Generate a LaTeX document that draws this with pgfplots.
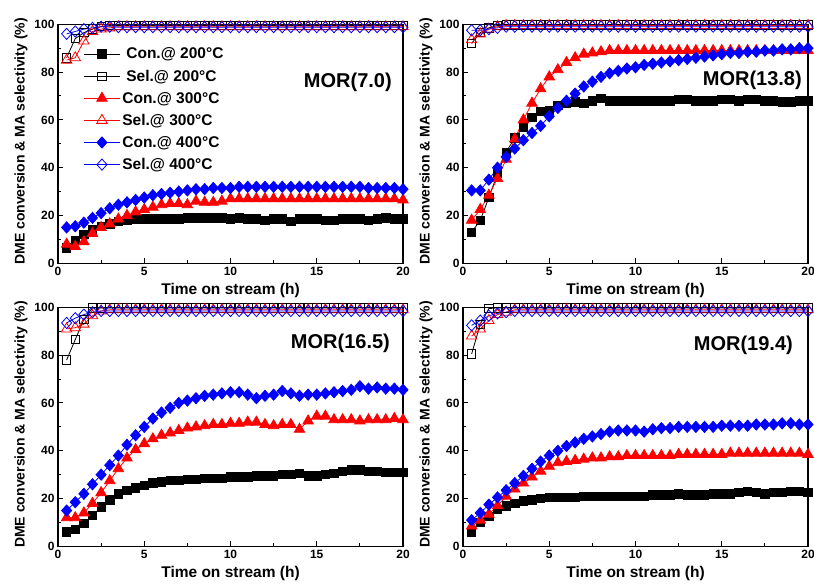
\documentclass[border=0pt]{standalone}
\usepackage{fontspec}
\setmainfont{Liberation Sans}
\usepackage{pgfplots}
\usepackage{pgfplotstable}
\pgfplotsset{compat=1.18}

% columns: t, Con200, Sel200, Con300, Sel300, Con400, Sel400
\pgfplotstableread{
t c2 s2 c3 s3 c4 s4
0.5 6.5 86 8 85 15 96
1.0 9.5 94 7 86 15.5 97
1.5 12 96.5 9 93 17 98
2.0 14 98 12.5 97 19 98.5
2.5 15.5 99 15 98 21 99
3.0 16.5 99.5 16.5 98.5 23 99
3.5 17.5 99.5 18.5 99 24.5 98.8
4.0 18 99.5 20 99 25.5 98.8
4.5 18.5 99.5 21.5 99 26.5 98.8
5.0 18.5 99.5 22.5 99 27.5 98.8
5.5 18.5 99.5 23.5 99 28.5 98.8
6.0 18.5 99.5 24.5 99 29 98.8
6.5 18.5 99.5 25 99 29.5 98.8
7.0 18.5 99.5 25 99 30 98.8
7.5 19 99.5 24.5 99 30.5 98.8
8.0 19 99.5 26 99 31 98.8
8.5 19 99.5 25.5 99 31 98.8
9.0 19 99.5 25.5 99 31.5 98.8
9.5 19 99.5 26 99 31.5 98.8
10.0 18.5 99.5 27 99 31.5 98.8
10.5 19 99.5 27 99 32 98.8
11.0 18.5 99.5 27 99 32 98.8
11.5 18.5 99.5 27 99 32 98.8
12.0 18 99.5 27 99 32 98.8
12.5 18.5 99.5 27 99 32 98.8
13.0 18.5 99.5 27 99 32 98.8
13.5 17.5 99.5 27 99 32 98.8
14.0 18.5 99.5 27 99 32 98.8
14.5 18.5 99.5 27 99 32 98.8
15.0 18.5 99.5 27 99 32 98.8
15.5 18 99.5 27 99 32 98.8
16.0 18 99.5 27 99 32 98.8
16.5 18.5 99.5 27 99 32 98.8
17.0 18.5 99.5 27 99 32 98.8
17.5 18.5 99.5 27 99 32 98.8
18.0 18 99.5 27 99 31.5 98.8
18.5 18.5 99.5 27 99 31.5 98.8
19.0 19 99.5 27 99 31.5 98.8
19.5 18.5 99.5 27 99 31.5 98.8
20.0 18.5 99.5 26.5 99 31 98.8
}\tabA

\pgfplotstableread{
t c2 s2 c3 s3 c4 s4
0.5 13 92 18 93.5 30.5 97.5
1.0 18 96.5 22.5 96 30.5 97.5
1.5 27.5 98.5 28.5 98 35 98
2.0 37.5 99.5 35.5 99 40 98.5
2.5 46.5 99.7 43.5 99.5 44.5 99
3.0 52.5 99.7 52 99.5 48 99
3.5 57 99.7 60 99.5 51.5 99
4.0 61 99.7 67 99.5 54.5 99
4.5 63.5 99.7 73 99.5 57.5 99
5.0 64 99.7 78 99.5 61.5 99
5.5 66 99.7 81 99.5 65 99
6.0 67 99.7 84 99.5 68 99
6.5 67.5 99.7 86 99.5 71 99
7.0 67 99.7 87.5 99.5 74 99
7.5 68 99.7 88 99.5 76 99
8.0 69 99.7 88.5 99.5 78 99
8.5 68 99.7 89 99.5 79.5 99
9.0 68 99.7 89 99.5 80.5 99
9.5 68 99.7 89 99.5 81.5 99
10.0 68 99.7 89 99.5 82 99
10.5 68 99.7 89 99.5 83 99
11.0 68 99.7 89 99.5 83.5 99
11.5 68 99.7 89 99.5 84 99
12.0 68 99.7 89 99.5 84.5 99
12.5 68.5 99.7 89 99.5 85 99
13.0 68.5 99.7 89 99.5 85.5 99
13.5 68 99.7 89 99.5 86 99
14.0 68 99.7 89 99.5 86.5 99
14.5 68 99.7 89 99.5 87 99
15.0 68.5 99.7 89 99.5 87.5 99
15.5 68.5 99.7 89 99.5 88 99
16.0 68 99.7 89 99.5 88 99
16.5 68.5 99.7 89 99.5 88.5 99
17.0 68.5 99.7 89 99.5 88.5 99
17.5 68 99.7 89 99.5 89 99
18.0 68 99.7 89 99.5 89 99
18.5 67.5 99.7 89 99.5 89.5 99
19.0 67.5 99.7 89 99.5 89.5 99
19.5 68 99.7 89 99.5 90 99
20.0 68 99.7 89 99.5 90 99
}\tabB

\pgfplotstableread{
t c2 s2 c3 s3 c4 s4
0.5 6 78 12 91 15 93.5
1.0 7 86.5 12 91.5 18.5 95.5
1.5 9.5 95 14 93 22 97
2.0 13 99.8 18 96.5 26 98
2.5 16.5 99.8 22.5 98.5 30 98.5
3.0 19.5 99.8 27.5 99 34 98.5
3.5 22 99.8 32.5 99 38 98.5
4.0 23.5 99.8 37 99 42.5 98.5
4.5 24.5 99.8 40.5 99 46.5 98.5
5.0 25.5 99.8 43 99 50 98.5
5.5 26.5 99.8 45 99 53.5 98.5
6.0 27 99.8 46.5 99 56 98.5
6.5 27.5 99.8 47.5 99 58 98.5
7.0 27.5 99.8 48.5 99 60 98.5
7.5 28 99.8 49.5 99 61 98.5
8.0 28 99.8 50 99 62 98.5
8.5 28.5 99.8 50.5 99 63 98.5
9.0 28.5 99.8 51 99 63.5 98.5
9.5 28.5 99.8 51 99 64 98.5
10.0 29 99.8 51.5 99 64.5 98.5
10.5 29 99.8 51.5 99 64.5 98.5
11.0 29 99.8 52 99 63.5 98.5
11.5 29.5 99.8 52 99 62 98.5
12.0 29.5 99.8 51 99 63 98.5
12.5 29.5 99.8 50.5 99 63.5 98.5
13.0 30 99.8 51 99 65 98.5
13.5 30 99.8 51 99 64 98.5
14.0 30.5 99.8 49 99 63 98.5
14.5 29.5 99.8 52.5 99 63.5 98.5
15.0 29.5 99.8 54.5 99 63.5 98.5
15.5 30 99.8 54.5 99 64 98.5
16.0 30.5 99.8 53 99 64.5 98.5
16.5 31.5 99.8 53 99 65 98.5
17.0 32 99.8 53 99 65.5 98.5
17.5 32 99.8 52.5 99 67 98.5
18.0 31.5 99.8 53 99 66 98.5
18.5 31.5 99.8 53 99 66.5 98.5
19.0 31 99.8 53 99 66 98.5
19.5 31 99.8 53.5 99 66 98.5
20.0 31 99.8 53 99 65.5 98.5
}\tabC

\pgfplotstableread{
t c2 s2 c3 s3 c4 s4
0.5 6 80.5 8.5 88 11 92.5
1.0 10 93 11 91 14 94.5
1.5 12.5 99.5 13.5 94.5 17.5 96.5
2.0 15.5 99.8 17 97 20.5 97.5
2.5 17 99.8 21 98 23.5 98
3.0 18 99.8 24 99 26.5 98.5
3.5 19 99.8 26.5 99 29.5 98.5
4.0 19.5 99.8 29 99 32.5 98.5
4.5 20 99.8 31.5 99 35.5 98.5
5.0 20.5 99.8 33.5 99 38 98.5
5.5 20.5 99.8 35 99 40 98.5
6.0 20.5 99.8 35.5 99 42 98.5
6.5 20.5 99.8 36 99 43.5 98.5
7.0 21 99.8 36.5 99 45 98.5
7.5 21 99.8 37 99 46 98.5
8.0 21 99.8 37 99 47 98.5
8.5 21 99.8 37.5 99 48 98.5
9.0 21 99.8 37.5 99 48.5 98.5
9.5 21 99.8 38 99 48.5 98.5
10.0 21 99.8 38 99 48.5 98.5
10.5 21 99.8 38 99 48 98.5
11.0 21.5 99.8 38 99 49 98.5
11.5 21.5 99.8 38 99 49.5 98.5
12.0 21.5 99.8 38 99 49.5 98.5
12.5 22 99.8 38.5 99 50 98.5
13.0 21.5 99.8 38.5 99 50 98.5
13.5 21.5 99.8 38.5 99 50 98.5
14.0 21.5 99.8 38.5 99 50 98.5
14.5 22 99.8 38.5 99 50 98.5
15.0 22 99.8 38.5 99 50.5 98.5
15.5 22 99.8 39 99 50.5 98.5
16.0 22.5 99.8 39 99 50.5 98.5
16.5 23 99.8 39 99 50.5 98.5
17.0 22.5 99.8 39 99 51 98.5
17.5 22 99.8 39 99 51 98.5
18.0 22.5 99.8 39 99 51 98.5
18.5 22.5 99.8 39 99 51.5 98.5
19.0 23 99.8 39 99 51.5 98.5
19.5 23 99.8 39 99 51 98.5
20.0 22.5 99.8 38.5 99 51 98.5
}\tabD

\pgfplotsset{
  mor/.style={
    scale only axis, width=345pt, height=239pt,
    xmin=0, xmax=20, ymin=0, ymax=100,
    xtick={0,5,10,15,20}, ytick={0,20,40,60,80,100},
    minor x tick num=1, minor y tick num=1,
    tick align=inside, tick pos=left,
    major tick length=5pt, minor tick length=3pt,
    axis line style={line width=1.2pt},
    every tick/.style={black, line width=1pt},
    clip=false,
    /pgf/number format/assume math mode=true,
    tick label style={font=\fontsize{12}{12}\selectfont\bfseries},
    xlabel={Time on stream (h)},
    ylabel={DME conversion \& MA selectivity (\%)},
    every axis x label/.style={at={(axis description cs:0.5,-0.112)}, anchor=center,
      font=\fontsize{15.5}{15.5}\selectfont\bfseries},
    every axis y label/.style={at={(axis description cs:-0.107,0.51)}, anchor=center, rotate=90,
      font=\fontsize{14}{14}\selectfont\bfseries},
  },
  cA/.style={black, line width=0.8pt, mark=square*, mark size=4.2pt, mark options={solid, fill=black}},
  sA/.style={black, line width=0.8pt, mark=square, mark size=4.2pt, mark options={solid}},
  cB/.style={red, line width=0.8pt, mark=triangle*, mark size=6pt, mark options={solid, fill=red}},
  sB/.style={red, line width=0.8pt, mark=triangle, mark size=6pt, mark options={solid}},
  cC/.style={blue, line width=0.8pt, mark=diamond*, mark size=5.6pt, mark options={solid, fill=blue, xscale=1.2}},
  sC/.style={blue, line width=0.8pt, mark=diamond, mark size=5.6pt, mark options={solid, xscale=1.2}},
}

\newcommand{\sixplots}[1]{%
  \addplot[cA] table[x=t,y=c2]{#1};
  \addplot[sA] table[x=t,y=s2]{#1};
  \addplot[cB] table[x=t,y=c3]{#1};
  \addplot[sB] table[x=t,y=s3]{#1};
  \addplot[cC] table[x=t,y=c4]{#1};
  \addplot[sC] table[x=t,y=s4]{#1};
}

\begin{document}
\begin{tikzpicture}
\useasboundingbox (0,0) rectangle (814pt,586pt);

\begin{axis}[mor, at={(58pt,322.7pt)}, anchor=south west,
  legend style={at={(axis cs:1.47,91.1)}, anchor=north west, draw=none, fill=none,
    font=\fontsize{15.5}{15.5}\selectfont\bfseries, row sep=5.5pt, inner sep=0pt},
  legend cell align=left,
  legend image code/.code={\draw[mark repeat=2,mark phase=2] plot coordinates {(0pt,0pt)(18pt,0pt)(36pt,0pt)};}]
\sixplots{\tabA}
\legend{\hspace{4pt}Con.@ 200°C, \hspace{4pt}Sel.@ 200°C, Con.@ 300°C, Sel.@ 300°C, Con.@ 400°C, Sel.@ 400°C}
\node[anchor=east, inner sep=0pt, font=\fontsize{20}{20}\selectfont\bfseries] at (axis cs:19.36,75.9) {MOR(7.0)};
\end{axis}

\begin{axis}[mor, at={(463pt,322.7pt)}, anchor=south west]
\sixplots{\tabB}
\node[anchor=east, inner sep=0pt, font=\fontsize{20}{20}\selectfont\bfseries] at (axis cs:19.65,76.7) {MOR(13.8)};
\end{axis}

\begin{axis}[mor, at={(58pt,39.6pt)}, anchor=south west]
\sixplots{\tabC}
\node[anchor=east, inner sep=0pt, font=\fontsize{20}{20}\selectfont\bfseries] at (axis cs:19.25,85.1) {MOR(16.5)};
\end{axis}

\begin{axis}[mor, at={(463pt,39.6pt)}, anchor=south west]
\sixplots{\tabD}
\node[anchor=east, inner sep=0pt, font=\fontsize{20}{20}\selectfont\bfseries] at (axis cs:19.13,84.3) {MOR(19.4)};
\end{axis}
\end{tikzpicture}
\end{document}
